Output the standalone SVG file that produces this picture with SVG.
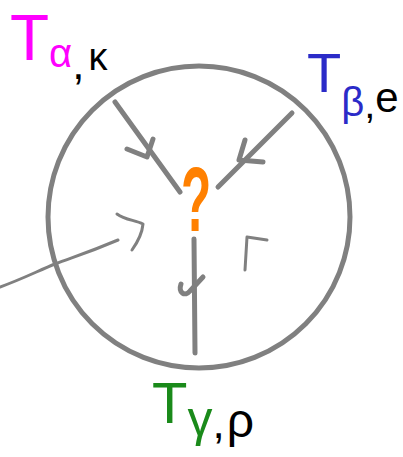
<svg xmlns="http://www.w3.org/2000/svg" width="403" height="457" viewBox="0 0 403 457">
<style>
.g{fill:none;stroke:#808080;stroke-linecap:round;stroke-linejoin:round}
.thick{stroke-width:5}
.thin{stroke-width:3}
.lbl{font-family:"Liberation Sans",Arial,sans-serif}
.k{fill:#000}
</style>
<rect width="403" height="457" fill="#fff"/>
<g id="boundary">
<circle class="g thick" cx="199" cy="217" r="151"/>
</g>
<g id="junction">
<text class="lbl" transform="translate(196,231) scale(0.55,1)" font-size="90" font-weight="bold" text-anchor="middle" fill="#FF8000">?</text>
</g>
<g id="connectors">
<path class="g thick" d="M115,102 L180,192"/>
<path class="g thick" d="M127,149 L147,157 L153,139"/>
<path class="g thick" d="M292,113 L218,187"/>
<path class="g thick" d="M245,140 L239,160 L263,162"/>
<path class="g thick" d="M194,239 L195,353"/>
<path class="g thick" d="M181,284 C178,293 185,297 190,291 L203,277"/>
<path class="g thin" d="M0,287 C20,280 40,270 55,264 C70,258 85,254 118,240"/>
<path class="g thin" d="M117,214 C125,220 135,220 143,224 C142,235 137,243 132,250"/>
<path class="g thin" d="M245,270 L247,237 L267,240"/>
</g>
<g id="label-alpha">
<text class="lbl" x="10" y="60" font-size="64" fill="#FF00FF">T<tspan font-size="40" dy="7">α</tspan><tspan class="k" font-size="44" dy="12">,</tspan><tspan class="k" font-size="38" dx="4" dy="-9">κ</tspan></text>
</g>
<g id="label-beta">
<text class="lbl" x="307" y="92" font-size="56" fill="#2B2BC8">T<tspan font-size="40" dy="24">β</tspan><tspan class="k" font-size="40" dy="2">,</tspan><tspan class="k" font-size="42" dy="-6">e</tspan></text>
</g>
<g id="label-gamma">
<text class="lbl" x="152" y="423" font-size="58" fill="#1A8A1A">T<tspan font-size="50" dy="13">γ</tspan><tspan class="k" font-size="44" dy="2">,</tspan><tspan class="k" font-size="48" dx="2" dy="-1">ρ</tspan></text>
</g>
</svg>
